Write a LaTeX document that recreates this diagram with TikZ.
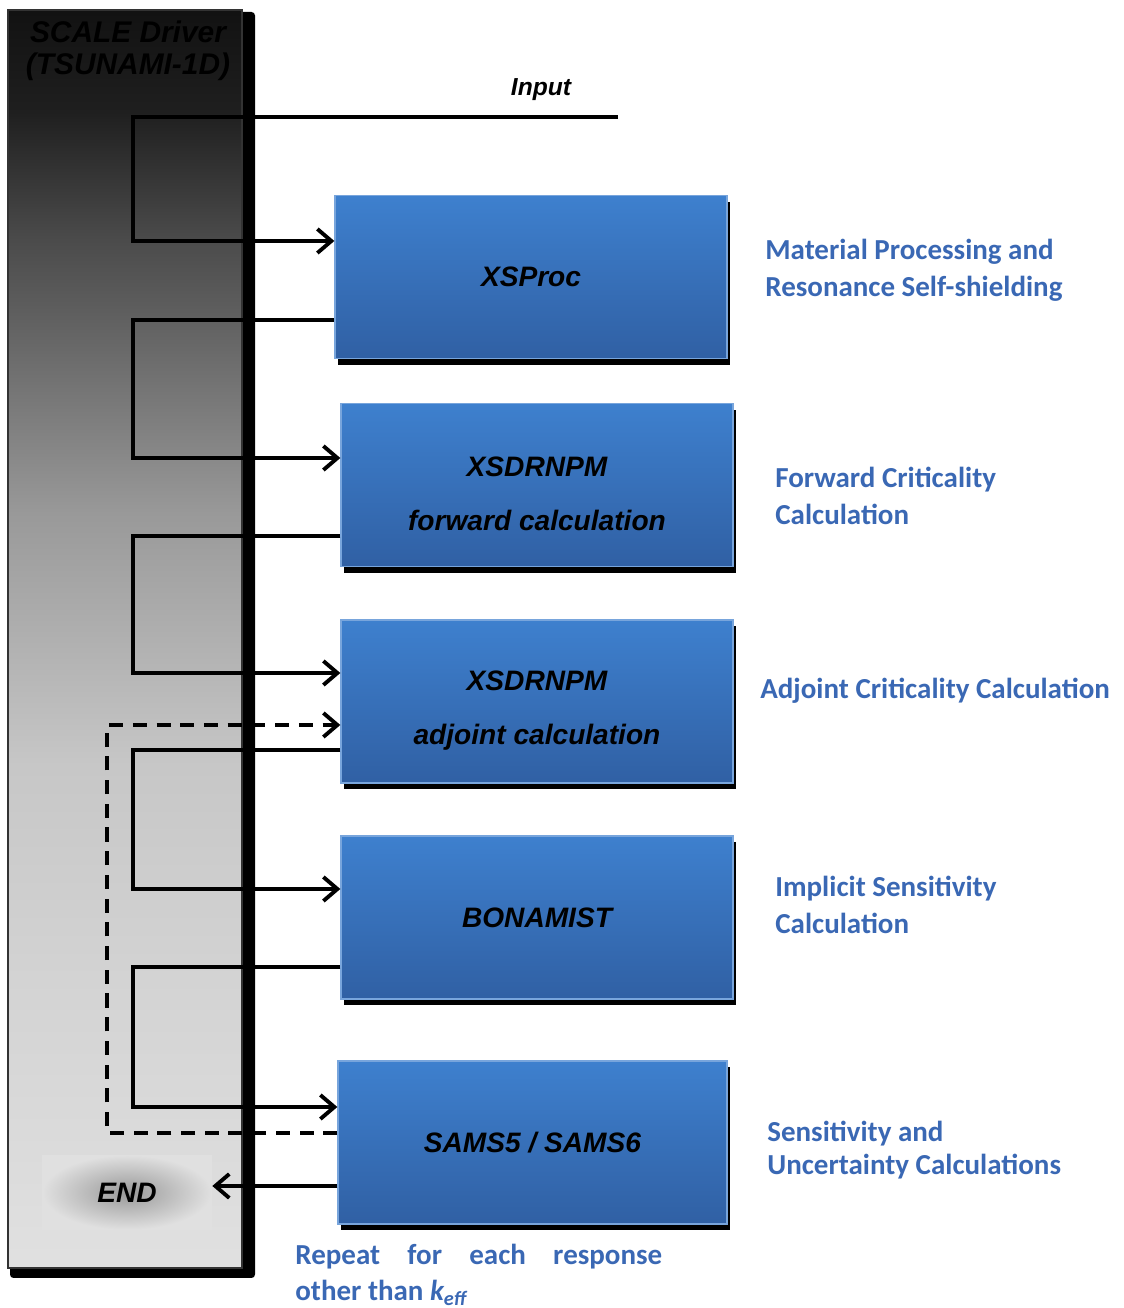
\documentclass[tikz,border=0pt]{standalone}
\usepackage{fontspec}
\usetikzlibrary{arrows.meta,positioning,calc,shadows}
\newfontfamily\arialfont{Liberation Sans}
\newfontfamily\calfont{Carlito}
\definecolor{modtop}{RGB}{62,128,206}
\definecolor{modbot}{RGB}{48,96,164}
\definecolor{modrim}{RGB}{120,165,220}
\definecolor{labelblue}{RGB}{58,104,180}
\pgfdeclareverticalshading{driverfade}{100bp}{color(0bp)=(black!12); color(25bp)=(black!12);
  color(36bp)=(black!17); color(45bp)=(black!22); color(55bp)=(black!40); color(63bp)=(black!63);
  color(66bp)=(black!71); color(71bp)=(black!88); color(75bp)=(black!93); color(100bp)=(black!93)}

\begin{document}
\begin{tikzpicture}[x=0.02cm, y=0.02cm,
  module/.style={draw=modrim, line width=0.8pt, top color=modtop, bottom color=modbot,
    minimum width=7.84cm, minimum height=3.26cm, align=center,
    font=\arialfont\bfseries\itshape\fontsize{16}{30.7}\selectfont,
    general shadow={fill=black, shadow xshift=1.5pt, shadow yshift=-3.5pt}},
  note/.style={anchor=west, align=left, inner sep=0pt, text=labelblue,
    font=\calfont\bfseries\fontsize{16.5}{21}\selectfont},
  flow/.style={line width=2.2pt, -{Straight Barb[length=2.8mm, width=4.8mm]}}]
\useasboundingbox (0,0) rectangle (1123,1308);
% driver panel
\fill[black, rounded corners=2pt] (10,30) rectangle (255,1296);
\shade[shading=driverfade, draw=black!80, line width=0.8pt] (8,40) rectangle (242,1298);
\node[font=\arialfont\bfseries\itshape\fontsize{17}{18.2}\selectfont, text=black,
  align=center] (title) at (128,1257) {SCALE Driver\\(TSUNAMI-1D)};
\node[shading=radial, inner color=black!40, outer color=black!12, minimum width=3.4cm,
  minimum height=1.5cm, font=\arialfont\bfseries\itshape\fontsize{16}{18}\selectfont]
  (finish) at (127,115.5) {END};
% modules
\node[module] (xsproc) at (531,1031) {XSProc};
\node[module] (fwd) at (537,823) {\strut XSDRNPM\\forward calculation};
\node[module] (adj) at (537,606.5) {\strut XSDRNPM\\adjoint calculation};
\node[module] (bonamist) at (537,390.5) {BONAMIST};
\node[module, minimum width=7.78cm] (sams) at (532.5,165.5) {SAMS5 / SAMS6};
% input
\node[font=\arialfont\bfseries\itshape\fontsize{14}{16}\selectfont] (input) at (541,1218) {Input};
\coordinate (feed) at (618,1191);
\coordinate (bus) at (133,0);
\coordinate (loop) at (107,0);
\draw[flow] (feed) -- (feed -| bus) |- ([yshift=0.72cm]xsproc.west);
% module chain
\foreach \a/\b/\out/\in in {xsproc/fwd/-0.86/0.54, fwd/adj/-1.02/0.57,
  adj/bonamist/-0.97/0.57, bonamist/sams/-0.99/0.71} {
  \path ([yshift=\out cm]\a.west) coordinate (o);
  \draw[flow] (o) -- (o -| bus) |- ([yshift=\in cm]\b.west);
}
% repeat loop
\path ([yshift=0.19cm]sams.west) coordinate (rep);
\draw[flow, dash pattern=on 8pt off 5.5pt] (rep) -- (rep -| loop) |- ([yshift=-0.47cm]adj.west);
% back to driver
\path ([yshift=-0.87cm]sams.west) coordinate (back);
\draw[flow] (back) -- (back -| finish.east);
% descriptions
\node[note] (matlabel) at (765,1037.5) {Material Processing and\\Resonance Self-shielding};
\node[note] (fwdlabel) at (775,812.5) {Forward Criticality\\Calculation};
\node[note] (adjlabel) at (760,617) {Adjoint Criticality Calculation};
\node[note] (implabel) at (775,403.5) {Implicit Sensitivity\\Calculation};
\node[note, font=\calfont\bfseries\fontsize{16.5}{18.8}\selectfont] (unclabel) at (767,157.5)
  {Sensitivity and\\Uncertainty Calculations};
\node[note, font=\calfont\bfseries\fontsize{16.5}{20.5}\selectfont] (replabel) at (295,33)
  {\makebox[7.34cm][s]{Repeat for each response}\\other than {\itshape k}\textsubscript{\itshape eff}};
\end{tikzpicture}
\end{document}
